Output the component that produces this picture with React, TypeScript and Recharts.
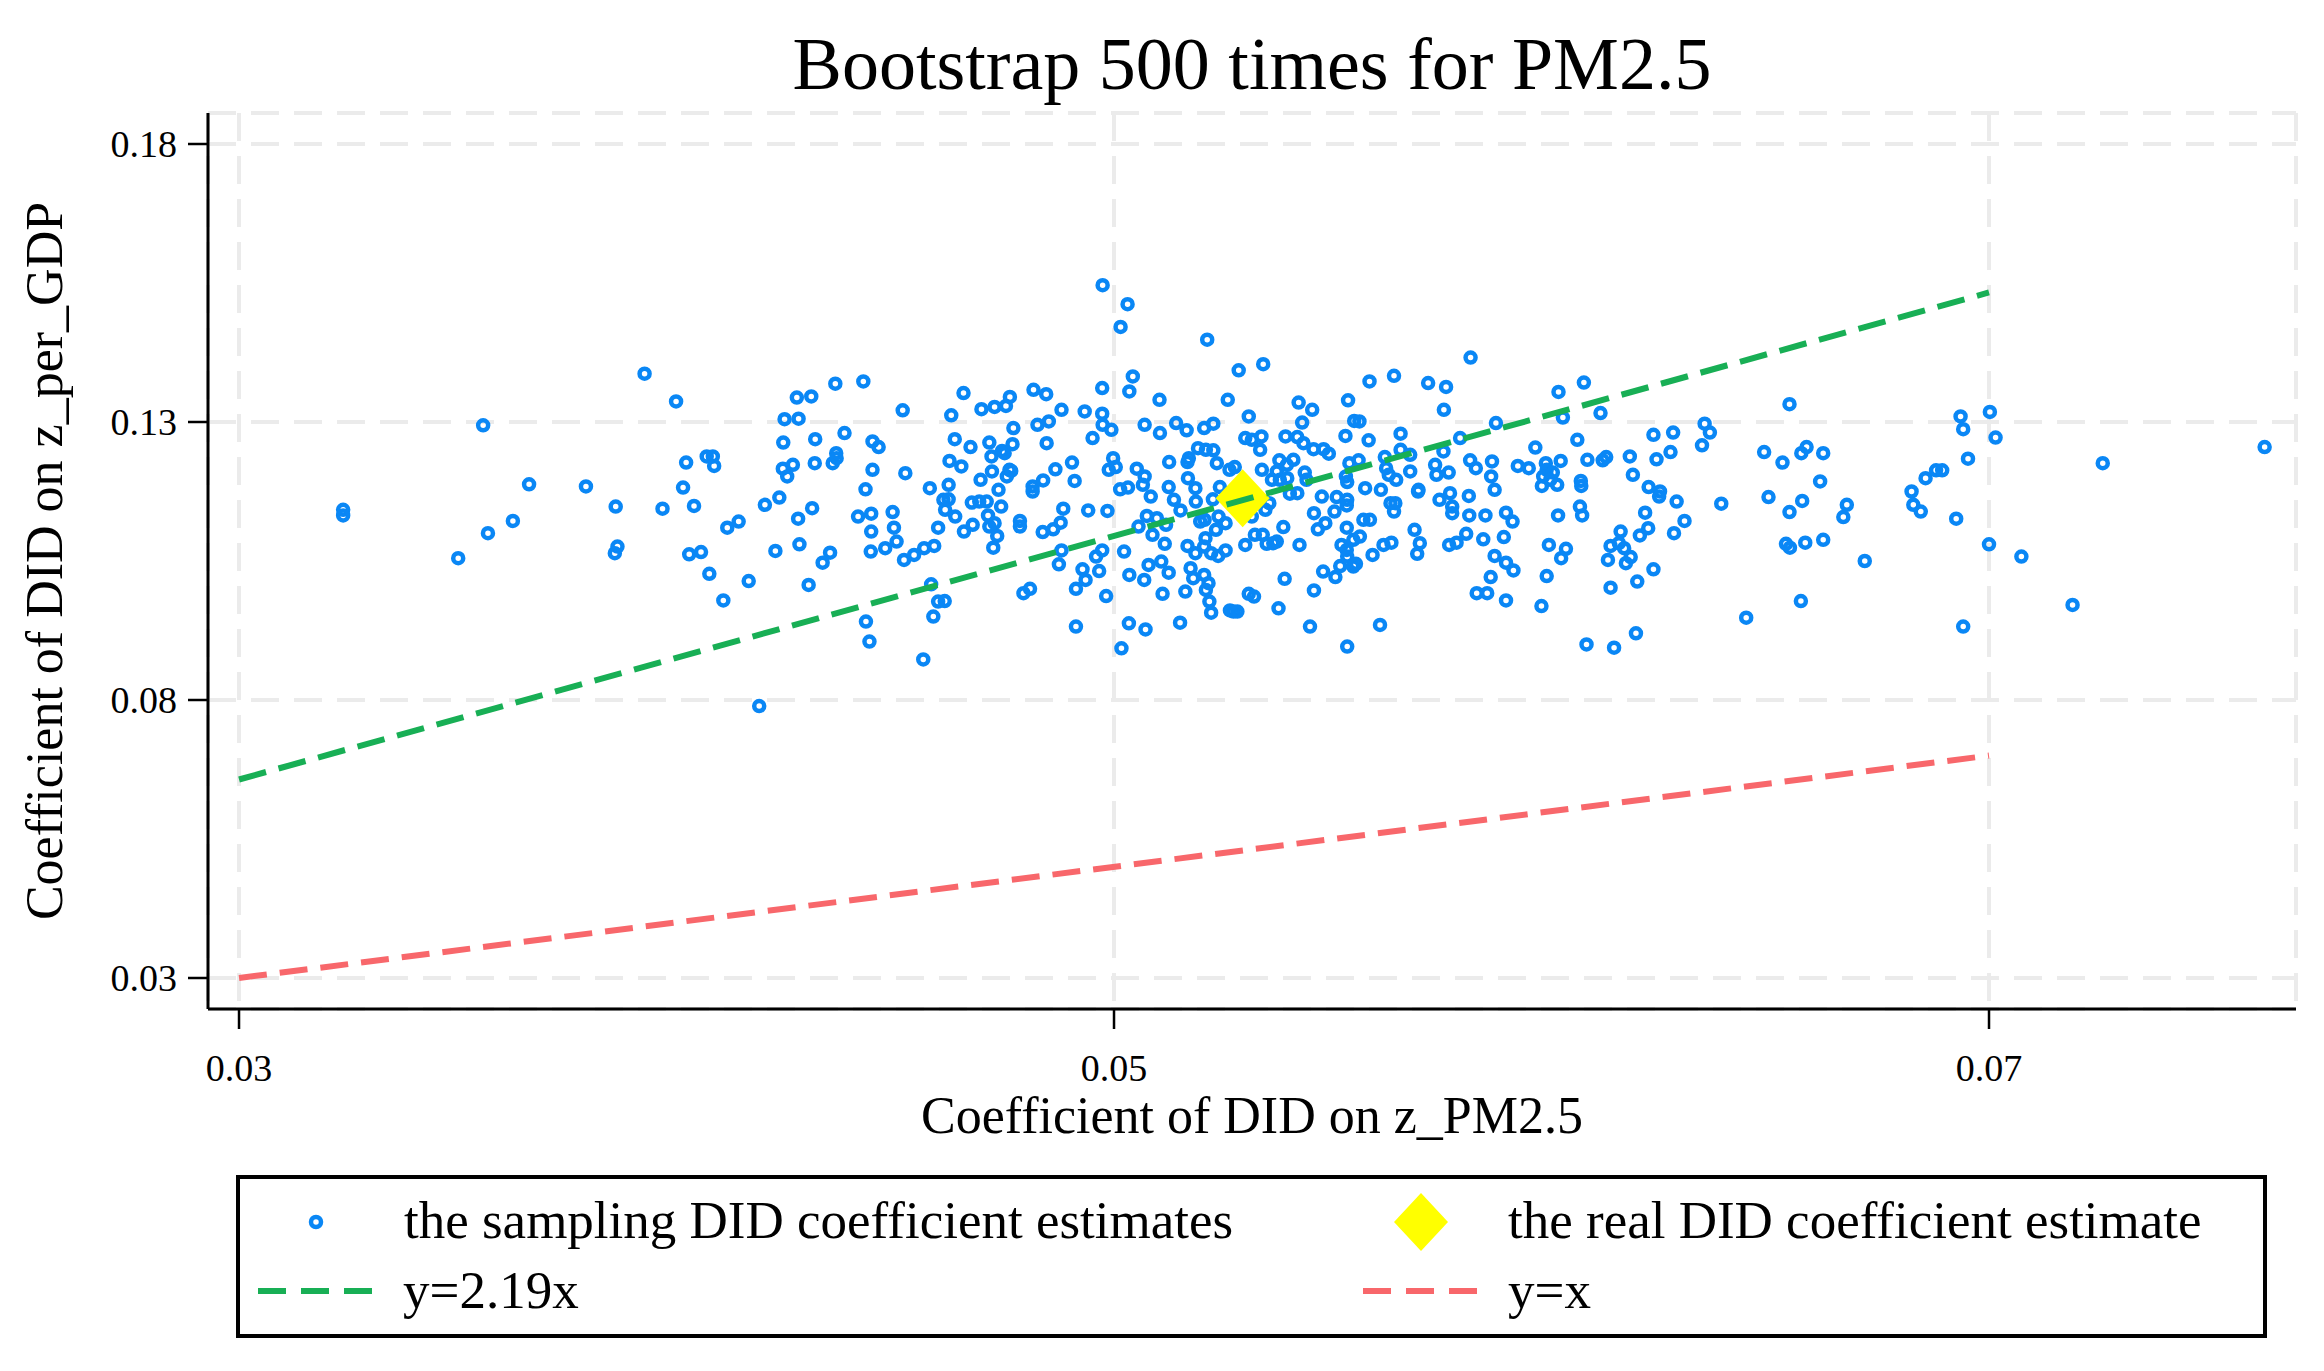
import React from 'react';
import { ScatterChart, Scatter, XAxis, YAxis, CartesianGrid } from 'recharts';

const FONT = '"Liberation Serif", "Times New Roman", serif';
const BLUE = '#0a87f5';
const GREEN = '#18af55';
const RED = '#f8676b';
const YELLOW = '#ffff00';
const GRID = '#ebebeb';

const xTicks = [0.03, 0.05, 0.07];
const yTicks = [0.03, 0.08, 0.13, 0.18];

// bootstrap draws left to right
const samplesFarLeft: [number, number][] = [
  [0.03238, 0.1142], [0.03238, 0.1132], [0.03558, 0.1294], [0.03501, 0.1055], [0.03569, 0.11],
  [0.03626, 0.1122], [0.03663, 0.1188], [0.03793, 0.1184], [0.03861, 0.1148], [0.03865, 0.1076],
  [0.03859, 0.1064], [0.03927, 0.1387], [0.03999, 0.1337], [0.03968, 0.1144], [0.04022, 0.1227],
  [0.04015, 0.1182], [0.0404, 0.1149], [0.04029, 0.1062], [0.04056, 0.1066], [0.04075, 0.1027],
];

const samplesLeft: [number, number][] = [
  [0.04069, 0.1238], [0.04083, 0.1238], [0.04086, 0.1221], [0.04107, 0.0979], [0.04116, 0.111],
  [0.04142, 0.1121], [0.04165, 0.1014], [0.04189, 0.0789], [0.04202, 0.1151], [0.04235, 0.1164],
  [0.04226, 0.1068], [0.04244, 0.1263], [0.04247, 0.1305], [0.04279, 0.1306], [0.04275, 0.1344],
  [0.04308, 0.1346], [0.04243, 0.1216], [0.04266, 0.1223], [0.04253, 0.1202], [0.04278, 0.1126],
  [0.04281, 0.108], [0.0431, 0.1145], [0.04302, 0.1007], [0.04317, 0.1269], [0.04316, 0.1226],
  [0.04363, 0.1369], [0.04357, 0.1226], [0.04365, 0.1244], [0.04366, 0.1235], [0.04384, 0.128],
  [0.04351, 0.1065], [0.04334, 0.1047], [0.04427, 0.1373], [0.04415, 0.113], [0.04432, 0.1179],
  [0.04448, 0.1265], [0.04462, 0.1255], [0.04448, 0.1214], [0.04445, 0.1135], [0.04445, 0.1103],
  [0.04444, 0.1067], [0.04477, 0.1073], [0.04494, 0.1138], [0.04497, 0.111], [0.04503, 0.1085],
  [0.04433, 0.0941], [0.04441, 0.0905], [0.04517, 0.1321], [0.04523, 0.1208], [0.0452, 0.1052],
  [0.04543, 0.1061], [0.04566, 0.1073], [0.04589, 0.1077], [0.04564, 0.0873], [0.04579, 0.1181],
  [0.04582, 0.1008], [0.04598, 0.0977], [0.04613, 0.0978], [0.04587, 0.095], [0.04598, 0.111],
  [0.04622, 0.1187], [0.0461, 0.116], [0.04622, 0.1161], [0.04614, 0.1142], [0.04637, 0.113],
  [0.04628, 0.1312], [0.04636, 0.1269], [0.04624, 0.123], [0.04651, 0.122], [0.04656, 0.1352],
  [0.04672, 0.1255], [0.04657, 0.1103], [0.04677, 0.1115], [0.04675, 0.1155], [0.04692, 0.1157],
  [0.04709, 0.1157], [0.04695, 0.1196], [0.04697, 0.1323], [0.04727, 0.1327], [0.04753, 0.1329],
  [0.04762, 0.1345], [0.04715, 0.1263], [0.0472, 0.1238], [0.04744, 0.1248], [0.0475, 0.1244],
  [0.04721, 0.1211], [0.0477, 0.1289], [0.04768, 0.126], [0.04755, 0.1202], [0.04761, 0.1214],
  [0.04765, 0.1212], [0.04736, 0.1178], [0.04742, 0.1148], [0.04712, 0.1132], [0.04727, 0.1118],
  [0.04715, 0.1112], [0.04733, 0.1095], [0.04724, 0.1074], [0.04785, 0.1122], [0.04785, 0.1112],
  [0.04793, 0.0992], [0.04808, 0.1], [0.04816, 0.1358], [0.04845, 0.135], [0.04825, 0.1295],
  [0.04851, 0.1301], [0.04846, 0.1262], [0.04814, 0.1184], [0.04814, 0.1175], [0.04838, 0.1195],
  [0.04866, 0.1215], [0.0488, 0.1322], [0.04904, 0.1227], [0.0491, 0.1194], [0.04884, 0.1144],
  [0.04878, 0.1119], [0.04861, 0.1107], [0.04837, 0.1102], [0.0488, 0.1069], [0.04874, 0.1044],
  [0.04913, 0.1], [0.04935, 0.1016], [0.04928, 0.1035], [0.04913, 0.0932], [0.04933, 0.1319],
  [0.04951, 0.1271], [0.04941, 0.1141], [0.04973, 0.1361], [0.04973, 0.1315], [0.04974, 0.1295],
  [0.04994, 0.1286], [0.04974, 0.1546], [0.04985, 0.114], [0.04959, 0.1058], [0.04973, 0.1069],
  [0.04966, 0.1032], [0.04982, 0.0987], [0.04998, 0.1235], [0.04988, 0.1214], [0.05004, 0.1219],
];

const samplesCenter: [number, number][] = [
  [0.05015, 0.1471], [0.05031, 0.1512], [0.05043, 0.1382], [0.05035, 0.1355], [0.05104, 0.134],
  [0.0507, 0.1295], [0.05105, 0.128], [0.05142, 0.1298], [0.05166, 0.1285], [0.05206, 0.1289],
  [0.05227, 0.1297], [0.05213, 0.1448], [0.05285, 0.1393], [0.05341, 0.1404], [0.0526, 0.134],
  [0.05308, 0.131], [0.05014, 0.1179], [0.05032, 0.1182], [0.05052, 0.1216], [0.0507, 0.1202],
  [0.05066, 0.1187], [0.05084, 0.1166], [0.05023, 0.1067], [0.05035, 0.1025], [0.05056, 0.1112],
  [0.05075, 0.1131], [0.05098, 0.1127], [0.05088, 0.1097], [0.05119, 0.1115], [0.05116, 0.1081],
  [0.05069, 0.1016], [0.05079, 0.1043], [0.05108, 0.1049], [0.05125, 0.1029], [0.05111, 0.0991],
  [0.05034, 0.0938], [0.05072, 0.0927], [0.05017, 0.0893], [0.05151, 0.0939], [0.05163, 0.0995],
  [0.05168, 0.1077], [0.05186, 0.1064], [0.05175, 0.1037], [0.05181, 0.1019], [0.05206, 0.1025],
  [0.05216, 0.101], [0.0521, 0.0998], [0.05218, 0.0977], [0.05222, 0.0957], [0.05126, 0.1228],
  [0.05125, 0.1183], [0.05137, 0.116], [0.05152, 0.1141], [0.05169, 0.1199], [0.05171, 0.1235],
  [0.05168, 0.1228], [0.05186, 0.1181], [0.05192, 0.1253], [0.0521, 0.125], [0.05227, 0.1249],
  [0.05235, 0.1226], [0.05187, 0.1157], [0.05197, 0.1121], [0.05207, 0.1124], [0.05209, 0.1091],
  [0.05206, 0.1076], [0.05222, 0.1064], [0.05238, 0.1059], [0.05255, 0.1069], [0.05226, 0.1161],
  [0.05239, 0.113], [0.05255, 0.1118], [0.05233, 0.1106], [0.05242, 0.1183], [0.05264, 0.1214],
  [0.05276, 0.1219], [0.05273, 0.0959], [0.05265, 0.0961], [0.05282, 0.0959], [0.05308, 0.0991],
  [0.0532, 0.0986], [0.053, 0.1079], [0.053, 0.1271], [0.05315, 0.1268], [0.05337, 0.1274],
  [0.05334, 0.125], [0.05338, 0.1214], [0.05315, 0.113], [0.05322, 0.1097], [0.0534, 0.1097],
  [0.05349, 0.1081], [0.05364, 0.1082], [0.05372, 0.1085], [0.05346, 0.1142], [0.05355, 0.1154],
  [0.05361, 0.1196], [0.05372, 0.1211], [0.05379, 0.1196], [0.05396, 0.1199], [0.05378, 0.1231],
  [0.05395, 0.1223], [0.0541, 0.1232], [0.05392, 0.1274], [0.05419, 0.1273], [0.05433, 0.1262],
  [0.05422, 0.1335], [0.05453, 0.1322], [0.0543, 0.1299], [0.05402, 0.1171], [0.05419, 0.1172],
  [0.05387, 0.1111], [0.05424, 0.1079], [0.0539, 0.1018], [0.05376, 0.0965], [0.05436, 0.1209],
  [0.0544, 0.1196], [0.05448, 0.0932], [0.05457, 0.0997], [0.05456, 0.1251], [0.05479, 0.1251],
  [0.05491, 0.1243], [0.05457, 0.1136], [0.05475, 0.1166], [0.05509, 0.1165], [0.05466, 0.1107],
  [0.05483, 0.1118], [0.05504, 0.1139], [0.05478, 0.1031], [0.05506, 0.1021], [0.05517, 0.1041],
  [0.05529, 0.1275], [0.0553, 0.1202], [0.05533, 0.1192], [0.05535, 0.1339], [0.05549, 0.1302],
  [0.05561, 0.1301], [0.05538, 0.1226], [0.05559, 0.1231], [0.05532, 0.115], [0.05533, 0.116],
  [0.05532, 0.111], [0.0552, 0.1079], [0.05532, 0.107], [0.05533, 0.1058], [0.05547, 0.1088],
  [0.05562, 0.1094], [0.0557, 0.1124], [0.05585, 0.1124], [0.05547, 0.104], [0.05553, 0.1045],
  [0.05533, 0.0896], [0.05584, 0.1373], [0.05582, 0.1267], [0.05574, 0.1181], [0.0561, 0.1178],
  [0.05619, 0.1237], [0.05622, 0.1217], [0.05628, 0.1205], [0.05645, 0.1196], [0.05632, 0.1154],
  [0.05643, 0.1154], [0.0564, 0.1139], [0.05591, 0.1061], [0.05616, 0.1079], [0.05634, 0.1083],
  [0.05608, 0.0935], [0.0564, 0.1383], [0.05655, 0.1279], [0.05655, 0.125], [0.05677, 0.1241],
  [0.05677, 0.1211], [0.05696, 0.1178], [0.05695, 0.1175], [0.05687, 0.1106], [0.05699, 0.1082],
  [0.05693, 0.1063], [0.05718, 0.137], [0.05759, 0.1363], [0.05754, 0.1322], [0.05753, 0.1247],
  [0.05791, 0.1271], [0.05734, 0.1223], [0.05737, 0.1205], [0.05765, 0.1209], [0.05744, 0.116],
  [0.05768, 0.1172], [0.05773, 0.1148], [0.05773, 0.1136], [0.05766, 0.1079], [0.05783, 0.1083],
  [0.05805, 0.1099], [0.05811, 0.1167], [0.05812, 0.1132], [0.05815, 0.1416], [0.05814, 0.1231],
  [0.05827, 0.1217], [0.05864, 0.1229], [0.05862, 0.1202], [0.0587, 0.1178], [0.05849, 0.1132],
  [0.05844, 0.1089], [0.05873, 0.1298], [0.05896, 0.1137], [0.05911, 0.1121], [0.05891, 0.1093],
  [0.0587, 0.1059], [0.05896, 0.1047], [0.05913, 0.1033], [0.05861, 0.1021], [0.05829, 0.0992],
  [0.05853, 0.0992], [0.05896, 0.0979],
];

const samplesRight: [number, number][] = [
  [0.05923, 0.1221], [0.05948, 0.1217], [0.05963, 0.1254], [0.05987, 0.1226], [0.05989, 0.1214],
  [0.05981, 0.1202], [0.06003, 0.1209], [0.06021, 0.123], [0.05997, 0.1196], [0.05978, 0.1185],
  [0.06013, 0.1187], [0.06016, 0.1354], [0.06074, 0.1371], [0.06026, 0.1308], [0.06112, 0.1316],
  [0.06059, 0.1268], [0.06082, 0.1232], [0.06117, 0.1231], [0.06125, 0.1237], [0.06067, 0.1194],
  [0.06068, 0.1185], [0.06065, 0.1148], [0.0607, 0.1132], [0.06015, 0.1132], [0.05994, 0.1079],
  [0.06033, 0.1072], [0.06022, 0.1055], [0.05989, 0.1023], [0.05977, 0.0969], [0.0608, 0.09],
  [0.06143, 0.0894], [0.06193, 0.092], [0.06135, 0.1002], [0.06196, 0.1013], [0.06233, 0.1035],
  [0.06129, 0.1052], [0.06135, 0.1077], [0.06158, 0.1103], [0.06154, 0.1082], [0.06166, 0.1073],
  [0.06181, 0.1057], [0.0617, 0.1046], [0.06202, 0.1096], [0.06221, 0.1109], [0.06214, 0.1137],
  [0.06222, 0.1183], [0.06248, 0.1175], [0.06246, 0.1166], [0.06286, 0.1157], [0.06304, 0.1122],
  [0.0628, 0.11], [0.06186, 0.1205], [0.06179, 0.1238], [0.06233, 0.1277], [0.06278, 0.1281],
  [0.0624, 0.1233], [0.06272, 0.1246], [0.0635, 0.1297], [0.06362, 0.1281], [0.06344, 0.1258],
  [0.06388, 0.1153], [0.06445, 0.0948], [0.06486, 0.1246], [0.06528, 0.1227], [0.06544, 0.1332],
  [0.06496, 0.1165], [0.06544, 0.1138], [0.06573, 0.1158], [0.06571, 0.1244], [0.06583, 0.1255],
  [0.06621, 0.1244], [0.06614, 0.1193], [0.06536, 0.1081], [0.06545, 0.1074], [0.0658, 0.1083],
  [0.06621, 0.1088], [0.0657, 0.0978], [0.06716, 0.105], [0.06675, 0.1151], [0.06667, 0.1129],
];

const samplesFarRight: [number, number][] = [
  [0.06823, 0.1175], [0.06827, 0.1151], [0.06844, 0.1139], [0.06855, 0.1199], [0.06879, 0.1213],
  [0.06893, 0.1213], [0.06925, 0.1126], [0.06941, 0.0932], [0.06935, 0.131], [0.06941, 0.1287],
  [0.06952, 0.1234], [0.07002, 0.1318], [0.07015, 0.1272], [0.07, 0.108], [0.07074, 0.1058],
  [0.07191, 0.0971], [0.0726, 0.1226], [0.0763, 0.1255],
];

const realEstimate: [number, number] = [0.05294, 0.1163];

const fitX = [0.03, 0.07];
const fitSteepY = [0.0657, 0.1533]; // y=2.19x
const fitIdentityY = [0.03, 0.07]; // y=x

const X_DOMAIN: [number, number] = [0.029291, 0.077017];
const Y_DOMAIN: [number, number] = [0.024424, 0.185576];

const toRows = (pts: [number, number][]) => pts.map(([x, y]) => ({ x, y }));

const sampleData = toRows([
  ...samplesFarLeft,
  ...samplesLeft,
  ...samplesCenter,
  ...samplesRight,
  ...samplesFarRight,
]);
const realData = toRows([realEstimate]);
const steepData = fitX.map((x, i) => ({ x, y: fitSteepY[i] }));
const identityData = fitX.map((x, i) => ({ x, y: fitIdentityY[i] }));

const HollowCircle = (props: any) => (
  <circle cx={props.cx} cy={props.cy} r={5} fill="none" stroke={BLUE} strokeWidth={4.5} />
);

const Diamond = (props: any) => {
  const { cx, cy } = props;
  return (
    <polygon
      points={`${cx},${cy - 29} ${cx + 27},${cy} ${cx},${cy + 29} ${cx - 27},${cy}`}
      fill={YELLOW}
    />
  );
};

const NoDot = () => <g />;

const tickStyle = { fontSize: 38, fill: '#000', fontFamily: FONT };
const fmt = (v: number) => v.toFixed(2);

export default function App() {
  return (
    <div
      style={{
        position: 'absolute',
        left: 0,
        top: 0,
        width: 2324,
        height: 1371,
        background: '#fff',
        fontFamily: FONT,
      }}
    >
      <ScatterChart width={2324} height={1371} margin={{ top: 113, right: 28, bottom: 222, left: 0 }}>
        <CartesianGrid stroke={GRID} strokeWidth={4} strokeDasharray="28 15" />
        <XAxis
          type="number"
          dataKey="x"
          domain={X_DOMAIN}
          ticks={xTicks}
          interval={0}
          allowDataOverflow
          height={140}
          tickSize={20}
          tickMargin={25}
          tickFormatter={fmt}
          tick={tickStyle}
          axisLine={{ stroke: '#000', strokeWidth: 3 }}
          tickLine={{ stroke: '#000', strokeWidth: 2.5 }}
        />
        <YAxis
          type="number"
          dataKey="y"
          domain={Y_DOMAIN}
          ticks={yTicks}
          interval={0}
          allowDataOverflow
          width={208}
          tickSize={20}
          tickMargin={11}
          tickFormatter={fmt}
          tick={tickStyle}
          axisLine={{ stroke: '#000', strokeWidth: 3 }}
          tickLine={{ stroke: '#000', strokeWidth: 2.5 }}
        />
        <Scatter data={sampleData} shape={HollowCircle} isAnimationActive={false} />
        <Scatter data={realData} shape={Diamond} isAnimationActive={false} />
        <Scatter
          data={steepData}
          shape={NoDot}
          line={{ stroke: GREEN, strokeWidth: 6, strokeDasharray: '28 13' }}
          isAnimationActive={false}
        />
        <Scatter
          data={identityData}
          shape={NoDot}
          line={{ stroke: RED, strokeWidth: 6, strokeDasharray: '28 13' }}
          isAnimationActive={false}
        />
      </ScatterChart>

      <svg
        width={2324}
        height={1371}
        style={{ position: 'absolute', left: 0, top: 0, pointerEvents: 'none' }}
        fontFamily={FONT}
      >
        <text x={1252} y={89} textAnchor="middle" fontSize={74} fill="#000">
          Bootstrap 500 times for PM2.5
        </text>
        <text x={1252} y={1133} textAnchor="middle" fontSize={52} fill="#000">
          Coefficient of DID on z_PM2.5
        </text>
        <text
          x={0}
          y={0}
          transform="translate(62 561) rotate(-90)"
          textAnchor="middle"
          fontSize={52}
          fill="#000"
        >
          Coefficient of DID on z_per_GDP
        </text>

        <rect x={238} y={1177} width={2027} height={159} fill="none" stroke="#000" strokeWidth={4} />
        <circle cx={316} cy={1222} r={5} fill="none" stroke={BLUE} strokeWidth={4.5} />
        <text x={404} y={1238} fontSize={53} fill="#000">
          the sampling DID coefficient estimates
        </text>
        <polygon points="1421,1193 1448,1222 1421,1251 1394,1222" fill={YELLOW} />
        <text x={1508} y={1238} fontSize={53} fill="#000">
          the real DID coefficient estimate
        </text>
        <line x1={258} y1={1291} x2={372} y2={1291} stroke={GREEN} strokeWidth={6} strokeDasharray="28 15" />
        <text x={403} y={1308} fontSize={53} fill="#000">
          y=2.19x
        </text>
        <line x1={1363} y1={1291} x2={1479} y2={1291} stroke={RED} strokeWidth={6} strokeDasharray="28 15" />
        <text x={1508} y={1308} fontSize={53} fill="#000">
          y=x
        </text>
      </svg>
    </div>
  );
}
